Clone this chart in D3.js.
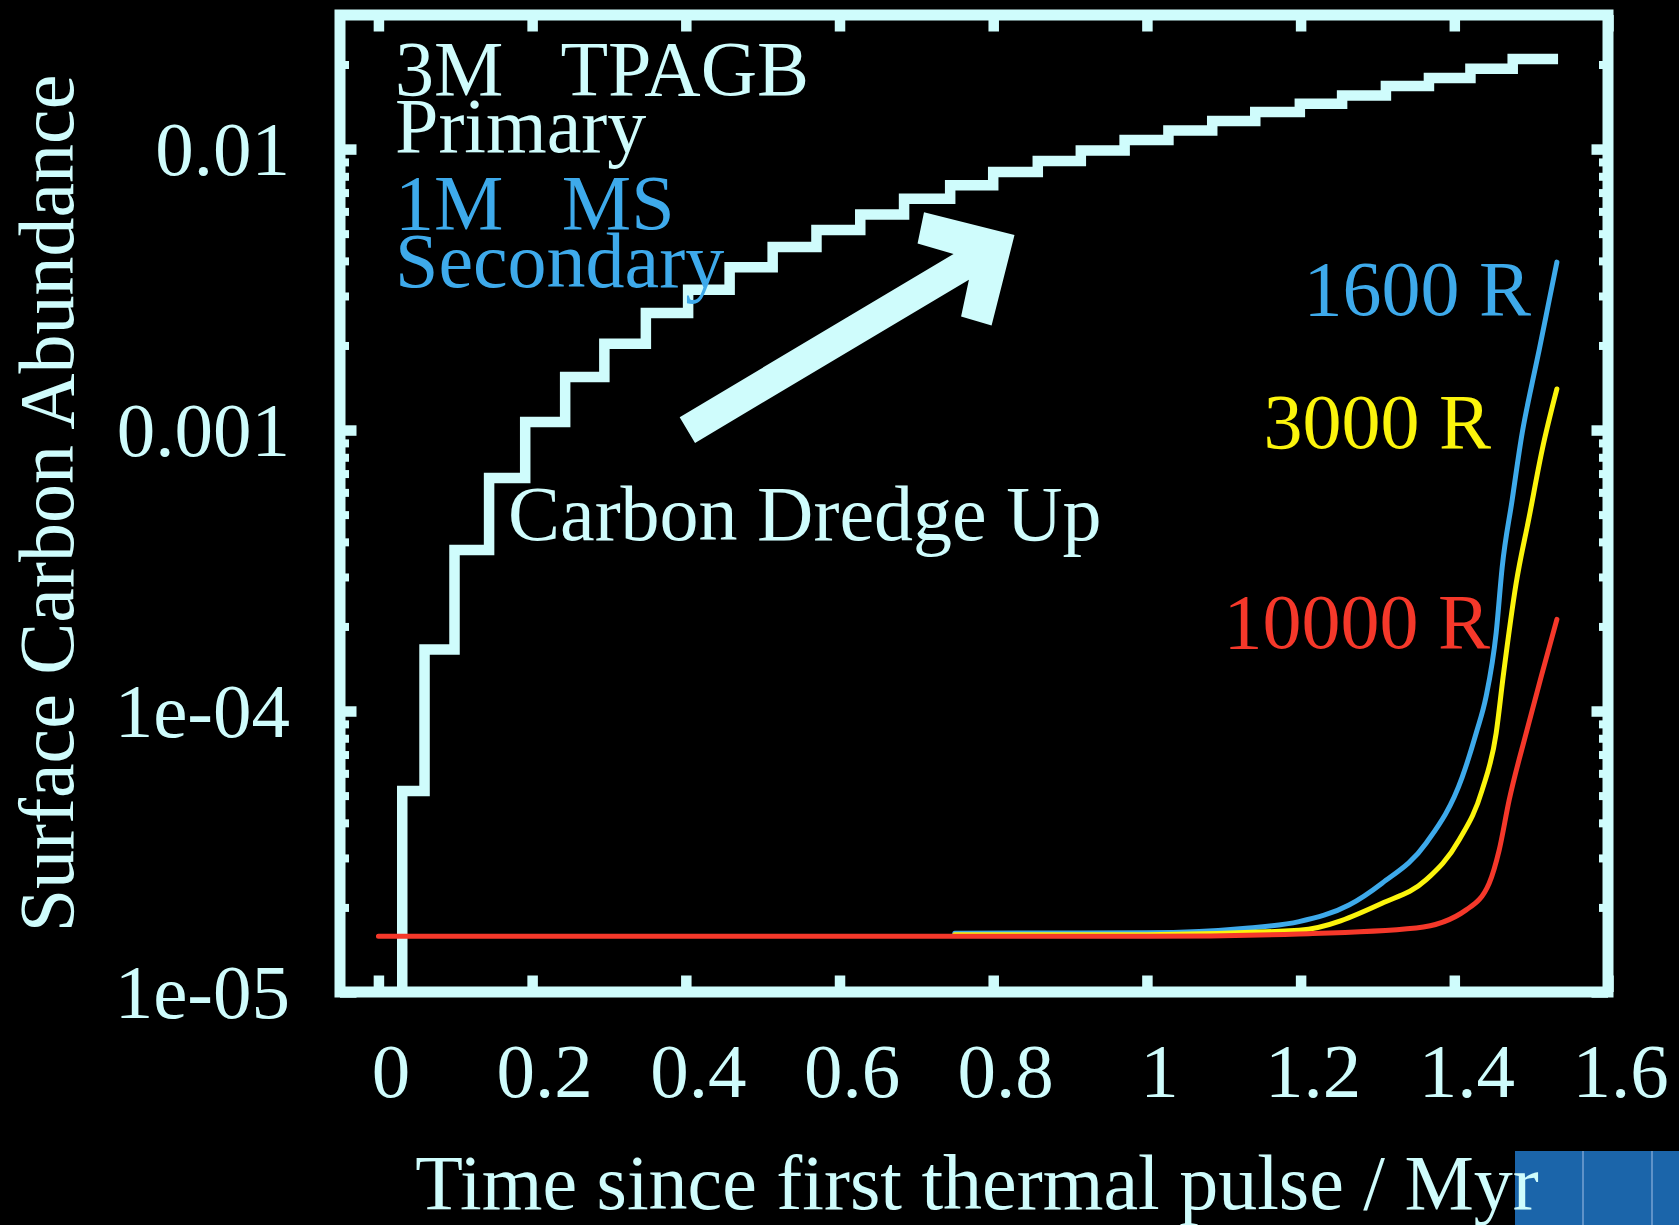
<!DOCTYPE html>
<html>
<head>
<meta charset="utf-8">
<script src="https://cdn.jsdelivr.net/npm/d3@7"></script>
<style>
  html, body { margin: 0; padding: 0; background: #000; }
  svg { display: block; }
  text { font-family: "Liberation Serif", "Times New Roman", serif; }
</style>
</head>
<body>
<svg id="chart" width="1679" height="1225"></svg>
<script>
// 3 Msun TP-AGB primary: time of each thermal pulse (Myr) and the surface
// carbon abundance left after that pulse's dredge-up
const pulseTimes = [0.031, 0.060, 0.099, 0.144, 0.191, 0.243, 0.294, 0.348, 0.403, 0.457,
                    0.513, 0.570, 0.627, 0.684, 0.744, 0.800, 0.858, 0.914, 0.971, 1.028,
                    1.085, 1.141, 1.199, 1.254, 1.311, 1.367, 1.421, 1.476];
const primaryCarbon = [5.19e-5, 1.655e-4, 3.74e-4, 6.75e-4, 1.068e-3, 1.545e-3, 2.03e-3, 2.61e-3,
                       3.16e-3, 3.80e-3, 4.48e-3, 5.15e-3, 5.85e-3, 6.65e-3, 7.43e-3, 8.28e-3,
                       9.06e-3, 9.88e-3, 1.077e-2, 1.164e-2, 1.259e-2, 1.355e-2, 1.45e-2,
                       1.552e-2, 1.675e-2, 1.79e-2, 1.93e-2, 2.09e-2];
const primaryStartCarbon = 1e-5;
const primaryEndTime = 1.535;

// 1 Msun main-sequence secondary, accreted carbon at three separations
const sep1600Time   = [0.75, 1.0, 1.133, 1.198, 1.263, 1.306, 1.3635, 1.4103, 1.4285, 1.4415,
                       1.4545, 1.4623, 1.4753, 1.4883, 1.5013, 1.5105, 1.5235, 1.5335];
const sep1600Carbon = [1.62e-5, 1.625e-5, 1.69e-5, 1.78e-5, 2.04e-5, 2.44e-5, 3.39e-5, 5.82e-5,
                       8.35e-5, 1.13e-4, 1.90e-4, 3.25e-4, 5.64e-4, 9.75e-4, 1.47e-3, 1.93e-3,
                       2.90e-3, 3.96e-3];

const sep3000Time   = [0.75, 1.0, 1.198, 1.306, 1.3635, 1.4064, 1.4363, 1.4545, 1.4635,
                       1.4805, 1.4974, 1.5143, 1.5335];
const sep3000Carbon = [1.6e-5, 1.6e-5, 1.66e-5, 2.07e-5, 2.51e-5, 3.48e-5, 5.24e-5, 8.35e-5,
                       1.32e-4, 2.85e-4, 4.90e-4, 8.49e-4, 1.40e-3];

const sep10000Time   = [0, 1.003, 1.198, 1.3505, 1.4155, 1.4454, 1.4584, 1.4714, 1.4935,
                        1.5135, 1.5335];
const sep10000Carbon = [1.58e-5, 1.58e-5, 1.61e-5, 1.69e-5, 1.96e-5, 2.44e-5, 3.20e-5,
                        4.82e-5, 8.35e-5, 1.34e-4, 2.12e-4];

const seriesNames = ["1600 R", "3000 R", "10000 R"];

// axis ticks
const xTickValues = [0, 0.2, 0.4, 0.6, 0.8, 1, 1.2, 1.4, 1.6];
const xTickLabels = ["0", "0.2", "0.4", "0.6", "0.8", "1", "1.2", "1.4", "1.6"];
const yTickValues = [1e-5, 1e-4, 1e-3, 1e-2];
const yTickLabels = ["1e-05", "1e-04", "0.001", "0.01"];

// dredge-up arrow, from tail to tip in data units
const arrowTail = [0.402, 1.0e-3];
const arrowTip  = [0.8277, 4.94e-3];

const xTitle = "Time since first thermal pulse / Myr";
const yTitle = "Surface Carbon Abundance";

// ---------------------------------------------------------------------------
const INK = "#cffcfc";
const BLUE = "#3eaaeb";
const YELLOW = "#fbf40c";
const RED = "#f5382a";
const TICK_FONT = 77;
const LABEL_FONT = 78;

const svg = d3.select("#chart");
svg.append("rect").attr("width", 1679).attr("height", 1225).attr("fill", "#000");

const x = d3.scaleLinear().domain([-0.05, 1.6]).range([340, 1608]);
const y = d3.scaleLog().domain([1e-5, 0.03]).range([992, 15]);

const [x0, x1] = x.range();
const [y0, y1] = y.range();

const isDecade = d => Math.abs(Math.log10(d) - Math.round(Math.log10(d))) < 1e-9;
const yMinor = y.ticks().filter(d => !isDecade(d) && d < y.domain()[1] * 0.999);

function styleAxis(sel, width) {
  sel.select(".domain").remove();
  sel.selectAll(".tick line").attr("stroke", INK).attr("stroke-width", width);
  sel.selectAll(".tick text")
    .attr("fill", INK)
    .style("font-size", TICK_FONT + "px")
    .style("font-family", '"Liberation Serif", "Times New Roman", serif');
}

const axes = svg.append("g");

// bottom axis with labels
const gBottom = axes.append("g").attr("transform", `translate(0,${y0})`)
  .call(d3.axisBottom(x).tickValues(xTickValues)
    .tickFormat((d, i) => xTickLabels[i])
    .tickSizeInner(-16.5).tickSizeOuter(0).tickPadding(50));
styleAxis(gBottom, 10.5);
gBottom.selectAll(".tick text").attr("dx", 12);

// top axis, ticks only
const gTop = axes.append("g").attr("transform", `translate(0,${y1})`)
  .call(d3.axisTop(x).tickValues(xTickValues).tickFormat("")
    .tickSizeInner(-16.5).tickSizeOuter(0));
styleAxis(gTop, 10.5);

// left axis: decades labelled, minor ticks short
const gLeft = axes.append("g").attr("transform", `translate(${x0},0)`)
  .call(d3.axisLeft(y).tickValues(yTickValues)
    .tickFormat((d, i) => yTickLabels[i])
    .tickSizeInner(-16.5).tickSizeOuter(0).tickPadding(50));
styleAxis(gLeft, 10.5);
gLeft.selectAll(".tick text").attr("dy", "0.33em");

const gLeftMinor = axes.append("g").attr("transform", `translate(${x0},0)`)
  .call(d3.axisLeft(y).tickValues(yMinor).tickFormat("")
    .tickSizeInner(-9).tickSizeOuter(0));
styleAxis(gLeftMinor, 8);

// right axis, ticks only
const gRight = axes.append("g").attr("transform", `translate(${x1},0)`)
  .call(d3.axisRight(y).tickValues(yTickValues).tickFormat("")
    .tickSizeInner(-16.5).tickSizeOuter(0));
styleAxis(gRight, 10.5);

const gRightMinor = axes.append("g").attr("transform", `translate(${x1},0)`)
  .call(d3.axisRight(y).tickValues(yMinor).tickFormat("")
    .tickSizeInner(-9).tickSizeOuter(0));
styleAxis(gRightMinor, 8);

// plot frame
svg.append("rect")
  .attr("x", x0).attr("y", y1)
  .attr("width", x1 - x0).attr("height", y0 - y1)
  .attr("fill", "none").attr("stroke", INK).attr("stroke-width", 11);

// primary staircase
const primaryPoints = [[pulseTimes[0], primaryStartCarbon]]
  .concat(pulseTimes.map((t, i) => [t, primaryCarbon[i]]))
  .concat([[primaryEndTime, primaryCarbon[primaryCarbon.length - 1]]]);

const stepLine = d3.line().x(d => x(d[0])).y(d => y(d[1])).curve(d3.curveStepAfter);
svg.append("path")
  .attr("d", stepLine(primaryPoints))
  .attr("fill", "none").attr("stroke", INK)
  .attr("stroke-width", 10.5).attr("stroke-linejoin", "miter").attr("stroke-linecap", "butt");

// secondary curves
const smooth = d3.line().x(d => x(d[0])).y(d => y(d[1])).curve(d3.curveMonotoneX);
const secondary = [
  { name: seriesNames[0], t: sep1600Time, c: sep1600Carbon, color: BLUE },
  { name: seriesNames[1], t: sep3000Time, c: sep3000Carbon, color: YELLOW },
  { name: seriesNames[2], t: sep10000Time, c: sep10000Carbon, color: RED }
];
secondary.forEach(s => {
  svg.append("path")
    .attr("d", smooth(s.t.map((t, i) => [t, s.c[i]])))
    .attr("fill", "none").attr("stroke", s.color)
    .attr("stroke-width", 5).attr("stroke-linecap", "round").attr("stroke-linejoin", "round");
});

// dredge-up arrow: thick shaft with a barbed head
(function drawArrow() {
  const T = [x(arrowTail[0]), y(arrowTail[1])];
  const P = [x(arrowTip[0]), y(arrowTip[1])];
  const L = Math.hypot(P[0] - T[0], P[1] - T[1]);
  const u = [(P[0] - T[0]) / L, (P[1] - T[1]) / L];
  const n = [u[1], -u[0]];
  const local = [
    [0, 15], [L - 62, 15], [L - 87.5, 42.5], [L - 66, 66], [L, 0],
    [L - 66, -66], [L - 87.5, -42.5], [L - 62, -15], [0, -15]
  ];
  const pts = local.map(([s, t]) => [T[0] + s * u[0] + t * n[0], T[1] + s * u[1] + t * n[1]]);
  svg.append("polygon").attr("points", pts.map(p => p.join(",")).join(" ")).attr("fill", INK);
})();

// annotations
function label(txt, px, py, color, anchor) {
  return svg.append("text")
    .attr("x", px).attr("y", py)
    .attr("fill", color)
    .attr("text-anchor", anchor || "start")
    .style("font-size", LABEL_FONT + "px")
    .style("white-space", "pre")
    .text(txt);
}
label("3M   TPAGB", 395, 95, INK);
label("Primary", 395, 152, INK);
label("1M   MS", 395, 229, BLUE);
label("Secondary", 395, 287, BLUE);
label("Carbon Dredge Up", 508, 540, INK);
label(seriesNames[0], 1531, 315, BLUE, "end");
label(seriesNames[1], 1491, 448, YELLOW, "end");
label(seriesNames[2], 1490, 648, RED, "end");

// slide thumbnail tab in the corner
const tab = svg.append("g");
tab.append("rect").attr("x", 1515).attr("y", 1151).attr("width", 164).attr("height", 74).attr("fill", "#1b65aa");
[1583, 1652].forEach(px => tab.append("line")
  .attr("x1", px).attr("x2", px).attr("y1", 1151).attr("y2", 1225)
  .attr("stroke", "#5f92c8").attr("stroke-width", 2));

// axis titles
svg.append("text")
  .attr("x", (x0 + x1) / 2 + 3).attr("y", 1209)
  .attr("text-anchor", "middle").attr("fill", INK)
  .style("font-size", LABEL_FONT + "px")
  .text(xTitle);

svg.append("text")
  .attr("transform", `translate(73,${(y0 + y1) / 2}) rotate(-90)`)
  .attr("text-anchor", "middle").attr("fill", INK)
  .style("font-size", LABEL_FONT + "px")
  .text(yTitle);
</script>
</body>
</html>
